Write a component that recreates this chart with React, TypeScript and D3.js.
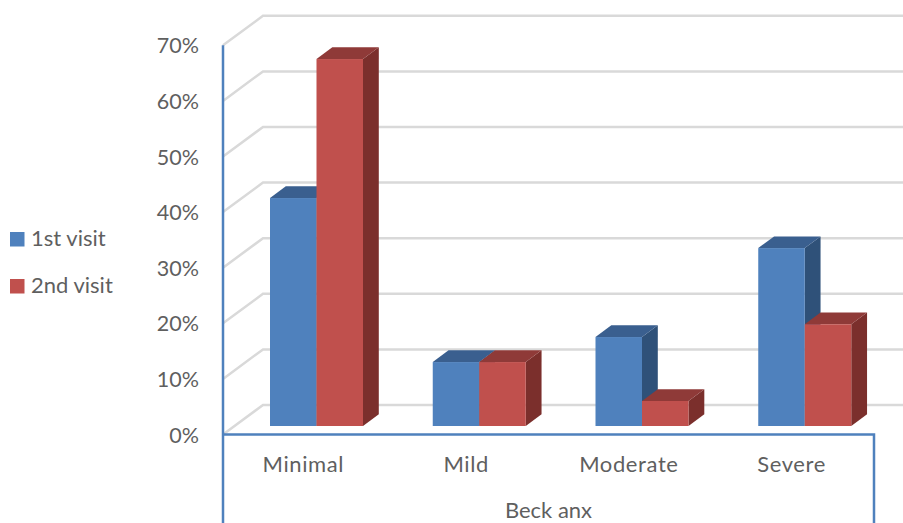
import React from "react";
import * as d3 from "d3";

const categories = ["Minimal", "Mild", "Moderate", "Severe"];
const seriesNames = ["1st visit", "2nd visit"];
const firstVisit = [41, 11.5, 16, 32];
const secondVisit = [66, 11.5, 4.5, 18.3];
const yTicks = [0, 10, 20, 30, 40, 50, 60, 70];
const axisTitle = "Beck anx";

const W = 903;
const H = 523;
const frontLeft = 223;
const frontRight = 874;
const floorFront = 434.5;
const wallDx = 40;
const wallDy = 29.5;
const barBase = 426;
const barInset = 47;
const barDepthX = 15.8;
const barDepthY = 11.7;
const barWidth = 46.5;

const faces = [
  { front: "#4f81bd", top: "#3a5f8f", side: "#2f5179" },
  { front: "#c0504d", top: "#8f3a38", side: "#7b2f2c" },
];
const axisBlue = "#4f81bd";
const gridGrey = "#d9d9d9";
const textGrey = "#5f5f5f";
const font = "Lato, 'Open Sans', sans-serif";

const y = d3.scaleLinear().domain([0, 70]).range([floorFront, 45.3]);
const x = d3.scaleBand<string>().domain(categories).range([frontLeft, frontRight]);
const polyline = d3.line();

function Bar({ left, value, tone }: { left: number; value: number; tone: (typeof faces)[number] }) {
  const height = y(0) - y(value);
  const top = barBase - height;
  const right = left + barWidth;
  const dx = barDepthX;
  const dy = barDepthY;
  return (
    <g>
      <path
        d={polyline([[right, top], [right + dx, top - dy], [right + dx, barBase - dy], [right, barBase]])! + "Z"}
        fill={tone.side}
      />
      <path
        d={polyline([[left, top], [left + dx, top - dy], [right + dx, top - dy], [right, top]])! + "Z"}
        fill={tone.top}
      />
      <rect x={left} y={top} width={barWidth} height={height} fill={tone.front} />
    </g>
  );
}

export default function App() {
  const series = [firstVisit, secondVisit];
  return (
    <svg
      width={W}
      height={H}
      viewBox={`0 0 ${W} ${H}`}
      style={{ position: "absolute", left: 0, top: 0, background: "#fff", fontFamily: font }}
    >
      {/* floor and wall grid */}
      {yTicks.map((t) => (
        <path
          key={t}
          d={polyline([[frontLeft, y(t)], [frontLeft + wallDx, y(t) - wallDy], [W, y(t) - wallDy]])!}
          fill="none"
          stroke={gridGrey}
          strokeWidth={2.5}
        />
      ))}

      {/* value axis labels */}
      {yTicks.map((t) => (
        <text key={t} x={199} y={y(t) + 8} textAnchor="end" fontSize={21.5} fill={textGrey}>
          {t}%
        </text>
      ))}

      {/* bars, first series behind the second */}
      {categories.map((c, i) => (
        <g key={c}>
          {series.map((values, s) => (
            <Bar
              key={s}
              left={x(c)! + barInset + s * barWidth}
              value={values[i]}
              tone={faces[s]}
            />
          ))}
        </g>
      ))}

      {/* axis frame */}
      <path
        d={polyline([[frontLeft, y(70)], [frontLeft, H]])!}
        fill="none"
        stroke={axisBlue}
        strokeWidth={2.5}
      />
      <path
        d={polyline([[frontLeft, floorFront], [frontRight, floorFront], [frontRight, H]])!}
        fill="none"
        stroke={axisBlue}
        strokeWidth={2.5}
      />

      {/* category labels */}
      {categories.map((c) => (
        <text
          key={c}
          x={x(c)! + x.bandwidth() / 2 - 1}
          y={471.5}
          textAnchor="middle"
          fontSize={22}
          letterSpacing={0.6}
          fill={textGrey}
        >
          {c}
        </text>
      ))}
      <text x={548.5} y={518} textAnchor="middle" fontSize={22} fill={textGrey}>
        {axisTitle}
      </text>

      {/* legend */}
      {seriesNames.map((name, i) => (
        <g key={name} transform={`translate(10, ${232 + i * 47})`}>
          <rect width={14.5} height={14.5} fill={faces[i].front} />
          <text x={21} y={14} fontSize={22} fill={textGrey}>
            {name}
          </text>
        </g>
      ))}
    </svg>
  );
}
